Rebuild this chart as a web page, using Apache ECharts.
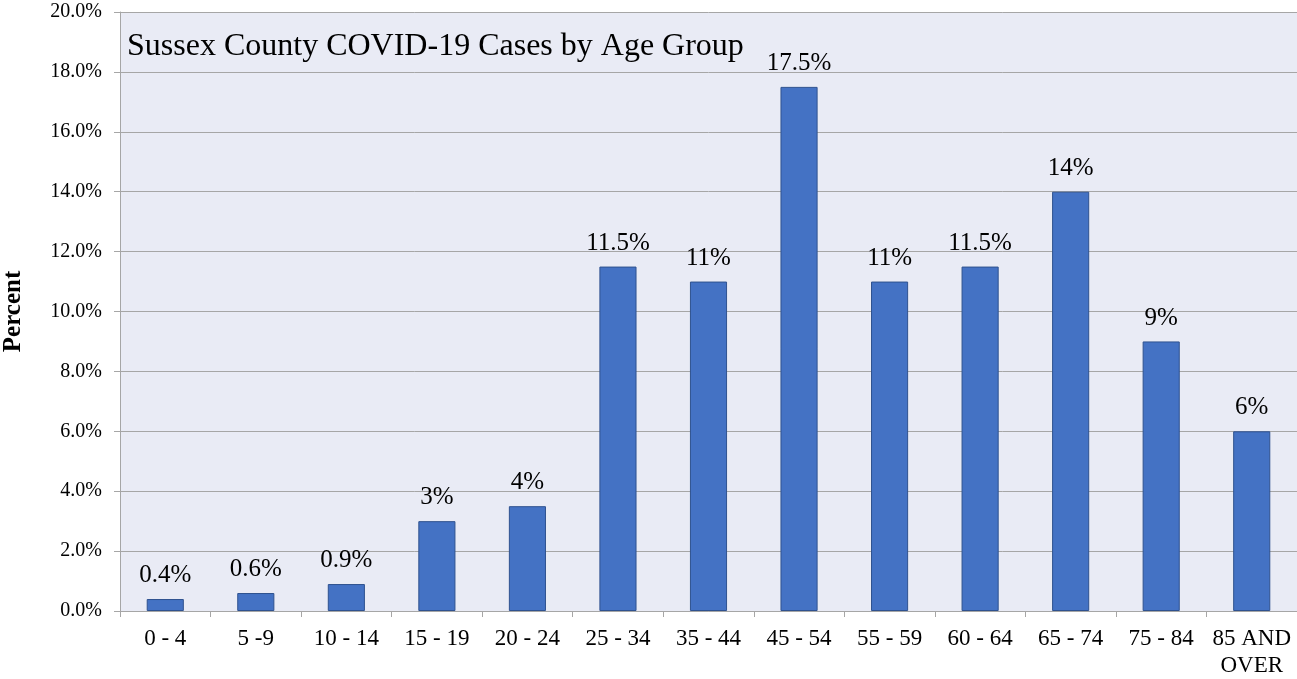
<!DOCTYPE html>
<html>
<head>
<meta charset="utf-8">
<script src="https://cdn.jsdelivr.net/npm/echarts@6/dist/echarts.min.js"></script>
<style>html,body{margin:0;padding:0;background:#fff}#c{width:1297px;height:679px}</style>
</head>
<body>
<div id="c"></div>
<script>
const categories = ['0 - 4','5 -9','10 - 14','15 - 19','20 - 24','25 - 34','35 - 44','45 - 54','55 - 59','60 - 64','65 - 74','75 - 84','85 AND\nOVER'];
const values = [0.4, 0.6, 0.9, 3, 3.5, 11.5, 11, 17.5, 11, 11.5, 14, 9, 6];
const labels = ['0.4%','0.6%','0.9%','3%','4%','11.5%','11%','17.5%','11%','11.5%','14%','9%','6%'];
const titleText = 'Sussex County COVID-19 Cases by Age Group';
const yAxisName = 'Percent';

const font = 'Liberation Serif, Times New Roman, serif';
const chart = echarts.init(document.getElementById('c'));
chart.setOption({
  animation: false,
  title: {
    text: titleText, left: 122, top: 26,
    textStyle: { fontFamily: font, fontSize: 32, fontWeight: 'normal', color: '#000' }
  },
  grid: { left: 120, right: 0, top: 12, bottom: 68, show: true, backgroundColor: '#E9EBF5', borderWidth: 0, outerBoundsMode: 'none', containLabel: false },
  xAxis: {
    type: 'category', data: categories,
    axisLine: { show: true, lineStyle: { color: '#A6A6A6', width: 1 } },
    axisTick: { show: true, length: 6, lineStyle: { color: '#A6A6A6' } },
    axisLabel: { fontFamily: font, fontSize: 23, color: '#000', margin: 14, lineHeight: 27, interval: 0 }
  },
  yAxis: {
    type: 'value', min: 0, max: 20, interval: 2,
    name: yAxisName, nameLocation: 'middle', nameGap: 94,
    nameTextStyle: { fontFamily: font, fontSize: 25, fontWeight: 'bold', color: '#000' },
    axisLine: { show: true, lineStyle: { color: '#A6A6A6', width: 1 } },
    axisTick: { show: true, length: 6, lineStyle: { color: '#A6A6A6' } },
    axisLabel: { fontFamily: font, fontSize: 20, color: '#000', margin: 18, formatter: v => v.toFixed(1) + '%' },
    splitLine: { show: true, lineStyle: { color: '#A6A6A6', width: 1 } }
  },
  series: [{
    type: 'bar', data: values, barWidth: '41%',
    itemStyle: { color: '#4472C4', borderColor: '#2F528F', borderWidth: 1 },
    label: {
      show: true, position: 'top', distance: 11,
      fontFamily: font, fontSize: 25, color: '#000',
      formatter: p => labels[p.dataIndex]
    }
  }]
});
</script>
</body>
</html>
